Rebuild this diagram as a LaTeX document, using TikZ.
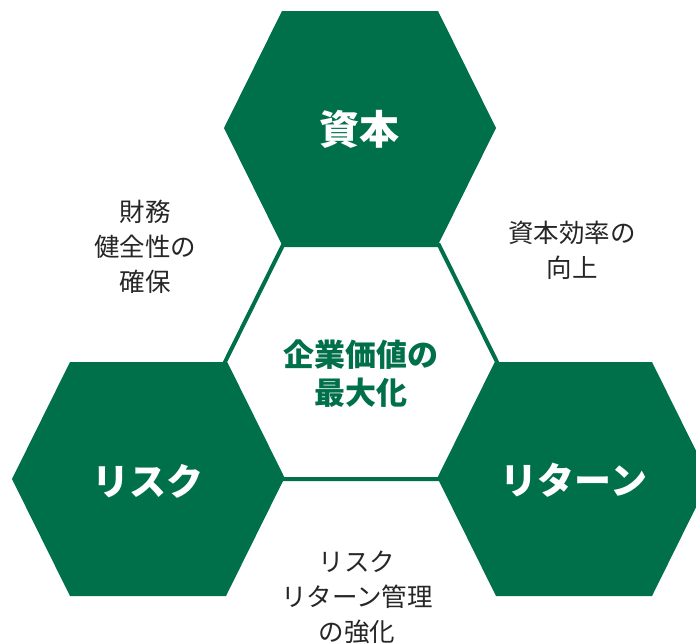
\documentclass[tikz,border=0pt]{standalone}
\usepackage{fontspec}
\setmainfont{Noto Sans CJK JP}
\definecolor{hexgreen}{HTML}{00704A}
\definecolor{notegray}{HTML}{262626}
\tikzset{
  hexagon/.style={insert path={(-136,0) -- (-78,-117) -- (78,-117) -- (136,0) -- (78,117) -- (-78,117) -- cycle}},
  hexfill/.style={fill=hexgreen,draw=none},
  hexcore/.style={fill=white,draw=hexgreen,line width=4pt,line join=miter},
  title/.style={text=white,font=\fontsize{37}{37}\selectfont\bfseries,inner sep=0pt},
  core/.style={text=hexgreen,font=\fontsize{31}{38}\selectfont\bfseries,align=center,inner sep=0pt},
  note/.style={text=notegray,font=\fontsize{25.5}{35}\selectfont,align=center,inner sep=0pt}
}
\begin{document}
\begin{tikzpicture}[x=1pt,y=-1pt]
\useasboundingbox (0,0) rectangle (696,643);
\clip (0,0) rectangle (696,643);
% hexagons
\fill[hexfill,shift={(360,128)},hexagon];
\fill[hexfill,shift={(148,479)},hexagon];
\fill[hexfill,shift={(574,479)},hexagon];
\filldraw[hexcore,shift={(361,362)},hexagon];
% labels
\node[title,font=\fontsize{40}{40}\selectfont\bfseries] (capital) at (359,129) {資本};
\node[title] (risk) at (148,481) {リスク};
\node[title] (ret) at (574,480) {リターン};
\node[core] (value) at (361,374) {企業価値の\\最大化};
\node[note] (fin) at (145,247) {財務\\健全性の\\確保};
\node[note] (eff) at (572,250) {資本効率の\\向上};
\node[note] (mgmt) at (357,597) {リスク\\リターン管理\\の強化};
\end{tikzpicture}
\end{document}
